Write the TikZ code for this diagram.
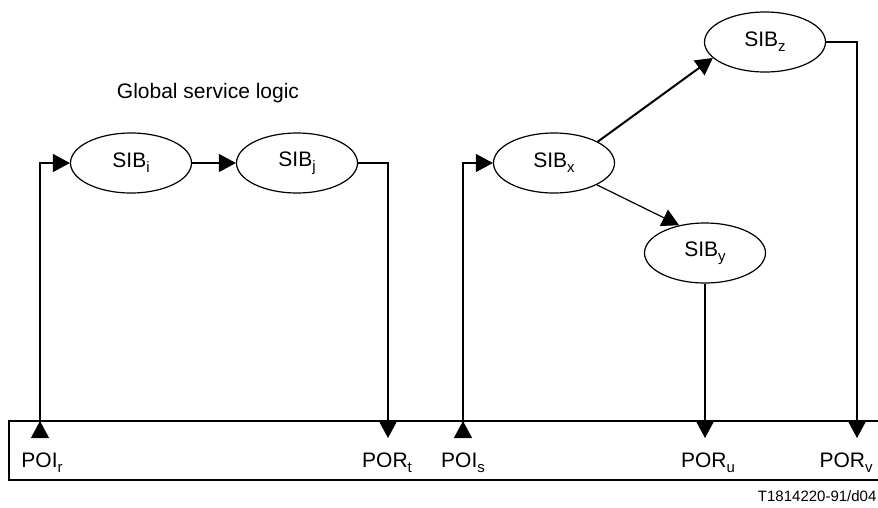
\documentclass[tikz,border=0pt]{standalone}
\usepackage{fontspec}
\setsansfont{Liberation Sans}
\usetikzlibrary{positioning,arrows.meta,shapes.geometric}
\newcommand{\sbs}[1]{\raisebox{-5pt}{\fontsize{15}{15}\selectfont #1}}

\begin{document}
\begin{tikzpicture}[x=1pt, y=-1pt, font=\sffamily\fontsize{21}{25}\selectfont, line width=1.2pt,
		sib/.style={draw, ellipse, minimum width=121pt, minimum height=60pt, inner sep=0pt},
		tri/.style={-{Triangle[length=17pt, width=18pt]}},
		poi/.style={{Triangle[length=17pt, width=18pt, reversed]}-{Triangle[length=17pt, width=18pt]}},
		lbl/.style={inner sep=0pt}]
		\useasboundingbox (0,0) rectangle (878,507);
		% network level
		\draw (9,421) rectangle (890,480);
		\node[lbl] (glob) at (208,93) {Global service logic};
		% service logic
		\node[sib] (sibi) at (131,163) {SIB\sbs{i}};
		\node[sib] (sibj) at (297,163) {SIB\sbs{j}};
		\node[sib] (sibx) at (554,163) {SIB\sbs{x}};
		\node[sib] (sibz) at (765,42) {SIB\sbs{z}};
		\node[sib] (siby) at (705,253) {SIB\sbs{y}};
		% points of initiation / return
		\coordinate (poir) at (40,438);
		\coordinate (port) at (388,438);
		\coordinate (pois) at (463,438);
		\coordinate (poru) at (705,438);
		\coordinate (porv) at (857,438);
		\node[lbl] (poirlbl) at (42,463) {POI\sbs{r}};
		\node[lbl] (portlbl) at (387,463) {POR\sbs{t}};
		\node[lbl] (poislbl) at (463,463) {POI\sbs{s}};
		\node[lbl] (porulbl) at (708,463) {POR\sbs{u}};
		\node[lbl] (porvlbl) at (846,463) {POR\sbs{v}};
		\node[lbl, anchor=east, font=\sffamily\fontsize{15}{18}\selectfont] (ref) at (877,496) {T1814220-91/d04};
		% connectors
		\draw[poi] (poir) |- (sibi.west);
		\draw[tri] (sibi) -- (sibj);
		\draw[tri] (sibj.east) -| (port);
		\draw[poi] (pois) |- (sibx.west);
		\draw[tri, line width=2pt] (sibx.26) -- (sibz.197);
		\draw[tri] (sibx.333) -- (siby.133);
		\draw[tri] (siby.south) -- (poru);
		\draw[tri] (sibz.east) -| (porv);
	\end{tikzpicture}
\end{document}
